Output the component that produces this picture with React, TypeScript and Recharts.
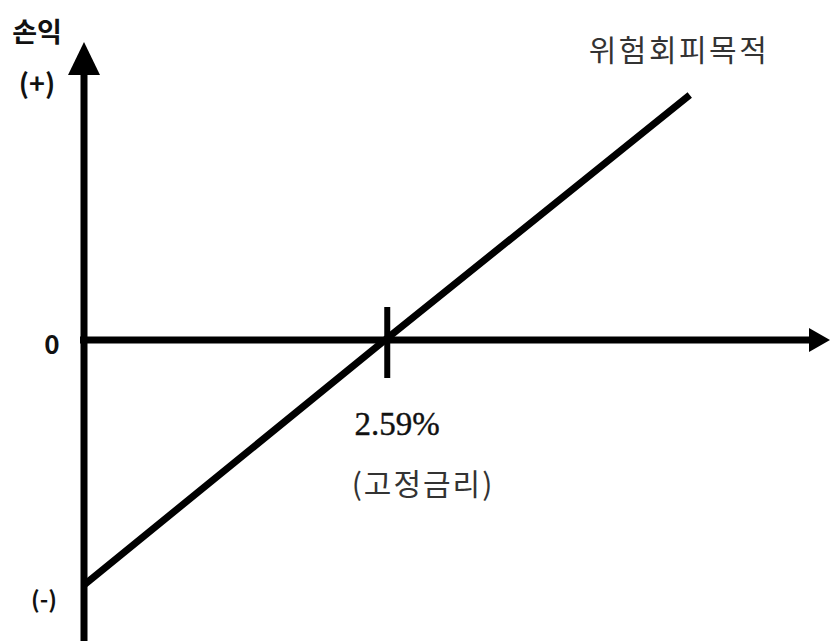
import React from "react";
import { LineChart, Line, XAxis, YAxis, ReferenceLine, Customized } from "recharts";

// Conceptual payoff line (position x, profit/loss y)
const positions = [0, 40.35, 81.2];
const payoff = [-82.2, 0, 82.2];
const breakEvenX = 40.35;
const rateLabel = "2.59%";
const rateNote = "(고정금리)";
const seriesName = "위험회피목적";
const yTitle = "손익";
const yTickLabels = ["(+)", "0", "(-)"];

const data = positions.map((x, i) => ({ x, y: payoff[i] }));

const KR = "'Noto Sans CJK KR', 'Noto Sans', sans-serif";

const XAxisShape = (p: any) => {
  const x1 = Math.min(p.x1, p.x2);
  const x2 = Math.max(p.x1, p.x2);
  const y = p.y1;
  return (
    <g>
      <line x1={x1 - 4} y1={y} x2={x2 - 14} y2={y} stroke="#000" strokeWidth={7} />
      <polygon points={`${x2},${y} ${x2 - 21},${y - 12} ${x2 - 21},${y + 12}`} fill="#000" />
    </g>
  );
};

const YAxisShape = (p: any) => {
  const y1 = Math.min(p.y1, p.y2);
  const y2 = Math.max(p.y1, p.y2);
  const x = p.x1;
  return (
    <g>
      <line x1={x} y1={y1 + 20} x2={x} y2={y2 + 4} stroke="#000" strokeWidth={7} />
      <polygon points={`${x},${y1} ${x - 16},${y1 + 33} ${x + 16},${y1 + 33}`} fill="#000" />
    </g>
  );
};

const TickShape = (p: any) => {
  const x = p.x1;
  return <line x1={x} y1={307} x2={x} y2={378} stroke="#000" strokeWidth={6} />;
};

const Labels = () => (
  <g>
    <text x={37} y={30} textAnchor="middle" dominantBaseline="central" fontFamily={KR} fontWeight={700} fontSize={27} fill="#111">{yTitle}</text>
    <text x={37} y={82} textAnchor="middle" dominantBaseline="central" fontFamily={KR} fontWeight={700} fontSize={27} fill="#111">{yTickLabels[0]}</text>
    <text x={52} y={342} textAnchor="middle" dominantBaseline="central" fontFamily={KR} fontWeight={700} fontSize={26} fill="#111">{yTickLabels[1]}</text>
    <text x={44} y={598} textAnchor="middle" dominantBaseline="central" fontFamily={KR} fontWeight={700} fontSize={23} fill="#111">{yTickLabels[2]}</text>
    <text x={679} y={48} textAnchor="middle" dominantBaseline="central" fontFamily={KR} fontSize={30} letterSpacing={2.5} fill="#333">{seriesName}</text>
    <text x={397} y={424} textAnchor="middle" dominantBaseline="central" fontFamily="'Liberation Serif', serif" fontSize={33} fill="#111" stroke="#111" strokeWidth={0.4}>{rateLabel}</text>
    <text x={423} y={482} textAnchor="middle" dominantBaseline="central" fontFamily={KR} fontSize={30} letterSpacing={2} fill="#333">{rateNote}</text>
  </g>
);

export default function App() {
  return (
    <div style={{ position: "absolute", left: 0, top: 0, width: 831, height: 641, background: "#fff" }}>
      <LineChart width={831} height={641} data={data} margin={{ top: 42, right: 1, bottom: 3, left: 84 }}>
        <XAxis type="number" dataKey="x" domain={[0, 100]} hide />
        <YAxis type="number" domain={[-100, 100]} hide />
        <ReferenceLine y={0} ifOverflow="visible" shape={XAxisShape} />
        <ReferenceLine x={0} ifOverflow="visible" shape={YAxisShape} />
        <ReferenceLine x={breakEvenX + 0.3} ifOverflow="visible" shape={TickShape} />
        <Line type="linear" dataKey="y" stroke="#000" strokeWidth={7} dot={false} isAnimationActive={false} />
        <Customized component={Labels} />
      </LineChart>
    </div>
  );
}
